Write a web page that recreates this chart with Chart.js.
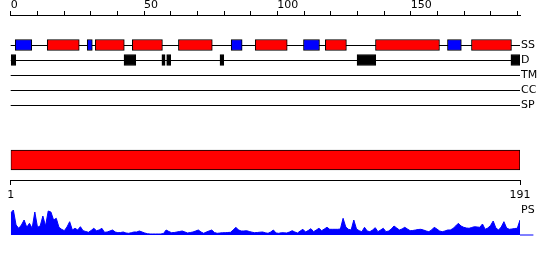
<!DOCTYPE html>
<html>
<head>
<meta charset="utf-8">
<script src="https://cdn.jsdelivr.net/npm/chart.js@4.4.1/dist/chart.umd.min.js"></script>
<style>
  html, body { margin: 0; padding: 0; background: #fff; }
  #wrap { position: relative; width: 550px; height: 260px; overflow: hidden; }
  #wrap canvas { position: absolute; left: 0; }
  #tracks { top: 0; }
  #seq { top: 140px; }
  #prof { top: 200px; }
</style>
</head>
<body>
<div id="wrap">
  <canvas id="tracks" width="550" height="115"></canvas>
  <canvas id="seq" width="550" height="65"></canvas>
  <canvas id="prof" width="550" height="40"></canvas>
</div>
<script>
// --- data ---
const seqLength = 191;
const axisLabels = [0, 50, 100, 150];
const seqTicks = [1, 191];
const trackLabels = ['SS', 'D', 'TM', 'CC', 'SP'];
const profileLabel = 'PS';

// secondary structure: helices (red) and strands (blue), [start, end]
const helices = [[13.7, 25.7], [31.7, 42.6], [45.6, 56.9], [62.9, 75.6], [91.7, 103.7],
                 [118, 125.9], [136.8, 160.8], [172.8, 187.8]];
const strands = [[1.7, 7.9], [28.7, 30.6], [82.7, 86.8], [109.8, 115.8], [163.8, 169]];
// disordered regions
const disorder = [[0, 1.9], [42.5, 46.9], [56.7, 57.9], [58.5, 60], [78.5, 79.9],
                  [129.9, 136.9], [187.6, 191]];

// per-residue profile (residue 1..191)
const profile = [
  22, 25, 10, 6.7, 10, 15, 7.7, 11.7, 6.7, 23,
  7.7, 9, 19, 9, 24, 23, 15, 16.7, 7.7, 5.7,
  4.3, 8, 13.3, 5, 6.7, 5, 8.3, 4.3, 3.5, 2.7,
  4.5, 6.7, 4.3, 5, 6.7, 2.7, 3, 4, 5, 3,
  2.3, 2.5, 3, 2, 1.7, 2.3, 3, 3, 4, 3,
  2, 1.3, 1, 1, 1, 1, 1, 1.5, 5, 3.5,
  2.3, 2.5, 3, 3.5, 4, 3, 2, 2.5, 3, 4,
  5, 3, 1.7, 3, 4, 5, 2.5, 1.7, 2, 2.3,
  2.3, 2.5, 2.7, 5, 7.7, 5, 4, 4, 4.3, 3.5,
  2.8, 2.3, 2.5, 2.8, 3, 2.2, 1.7, 3, 5, 2,
  1.7, 2.3, 2.2, 2, 3, 4.3, 3, 2, 4, 5.7,
  3, 4.5, 6.3, 3.3, 5, 6.7, 4.3, 6, 7.7, 5.7,
  5.7, 5.7, 5.7, 6, 16.7, 8, 5.7, 5, 15, 6,
  4.3, 3.3, 7.7, 4, 3.3, 5, 7.3, 3.3, 5, 6.7,
  3.3, 4, 6, 9, 7, 5, 6, 7.7, 6, 4.3,
  4.5, 5, 5.5, 5.7, 5, 4, 3.3, 5, 7.7, 6,
  4, 3.3, 4, 5, 5, 6.5, 9, 11.7, 9, 7.7,
  7, 6.7, 7.5, 8.3, 8, 7.7, 11, 5.7, 7, 9.5,
  14, 7, 5, 8, 13.3, 7, 5.7, 6, 6.5, 6.7,
  15
];
const profileTail = [191, 196];

// --- styles ---
const FONT = { family: 'DejaVu Sans', size: 11 };
const RED = '#ff0000';
const BLUE = '#0000ff';
const BLACK = '#000000';
const LEFT = 10.7;

Chart.defaults.font.family = FONT.family;
Chart.defaults.color = BLACK;

const noPlugins = { legend: { display: false }, tooltip: { enabled: false } };

// 1. feature tracks with the top ruler
const boxes = (list, track) => list.map(([s, e]) => ({ x: [s, e], y: track }));
const boxStyle = { borderColor: BLACK, borderWidth: 1, borderSkipped: false, barThickness: 11, grouped: false };

new Chart(document.getElementById('tracks'), {
    type: 'bar',
    data: {
        labels: ['', '', ...trackLabels],
        datasets: [
            { data: boxes(helices, 'SS'), backgroundColor: RED, ...boxStyle },
            { data: boxes(strands, 'SS'), backgroundColor: BLUE, ...boxStyle },
            { data: boxes(disorder, 'D'), backgroundColor: BLACK, ...boxStyle }
        ]
    },
    options: {
        indexAxis: 'y',
        responsive: false,
        animation: false,
        layout: { padding: { left: LEFT, right: 0, top: 0, bottom: 10 } },
        plugins: noPlugins,
        scales: {
            x: {
                type: 'linear', position: 'top', min: 0, max: seqLength,
                afterFit: s => { s.height = 15; },
                border: { display: true, color: BLACK, width: 1 },
                grid: { drawOnChartArea: false, drawTicks: true, tickLength: 4, color: BLACK },
                ticks: {
                    stepSize: 10, includeBounds: false, autoSkip: false, maxRotation: 0,
                    align: 'start', padding: -1, font: FONT,
                    callback: v => axisLabels.includes(v) ? String(v) : ''
                }
            },
            y: {
                type: 'category', position: 'right', offset: false,
                afterFit: s => { s.width = 30; },
                border: { display: false },
                grid: { offset: false, color: c => c.index >= 2 ? BLACK : 'rgba(0,0,0,0)', drawTicks: false, lineWidth: 1 },
                ticks: { padding: 1, autoSkip: false, font: FONT }
            }
        }
    }
});

// 2. full sequence bar with its ruler
new Chart(document.getElementById('seq'), {
    type: 'bar',
    data: {
        labels: ['seq'],
        datasets: [{
            data: [{ x: [seqTicks[0], seqTicks[1]], y: 'seq' }],
            backgroundColor: RED, borderColor: BLACK, borderWidth: 1,
            borderSkipped: false, barThickness: 20
        }]
    },
    options: {
        indexAxis: 'y',
        responsive: false,
        animation: false,
        layout: { padding: { left: LEFT, right: 30, top: 0, bottom: 0 } },
        plugins: noPlugins,
        scales: {
            x: {
                type: 'linear', position: 'bottom', min: seqTicks[0], max: seqTicks[1],
                afterBuildTicks: s => { s.ticks = seqTicks.map(v => ({ value: v })); },
                afterFit: s => { s.height = 25; },
                border: { display: true, color: BLACK, width: 1 },
                grid: { drawOnChartArea: false, drawTicks: true, tickLength: 5, color: BLACK },
                ticks: { autoSkip: false, maxRotation: 0, padding: 4, font: FONT }
            },
            y: { display: false }
        }
    }
});

// 3. profile area
new Chart(document.getElementById('prof'), {
    type: 'line',
    data: {
        datasets: [
            {
                data: profile.map((v, i) => ({ x: i + 1, y: v })),
                borderColor: BLUE, backgroundColor: BLUE, borderWidth: 1,
                fill: 'origin', pointRadius: 0, tension: 0
            },
            {
                data: profileTail.map(x => ({ x, y: 0 })),
                borderColor: BLUE, borderWidth: 1, pointRadius: 0, fill: false, clip: false
            }
        ]
    },
    options: {
        responsive: false,
        animation: false,
        layout: { padding: { left: LEFT, right: 0, top: 10, bottom: 5 } },
        plugins: noPlugins,
        scales: {
            x: { type: 'linear', min: 1, max: seqLength, display: false },
            y: {
                position: 'right', min: 0, max: 25,
                afterFit: s => { s.width = 30; s.paddingTop = 0; s.paddingBottom = 0; },
                afterBuildTicks: s => { s.ticks = [{ value: 24.5 }]; },
                border: { display: false },
                grid: { display: false, drawTicks: false },
                ticks: { padding: 1, font: FONT, callback: () => profileLabel }
            }
        }
    }
});
</script>
</body>
</html>
